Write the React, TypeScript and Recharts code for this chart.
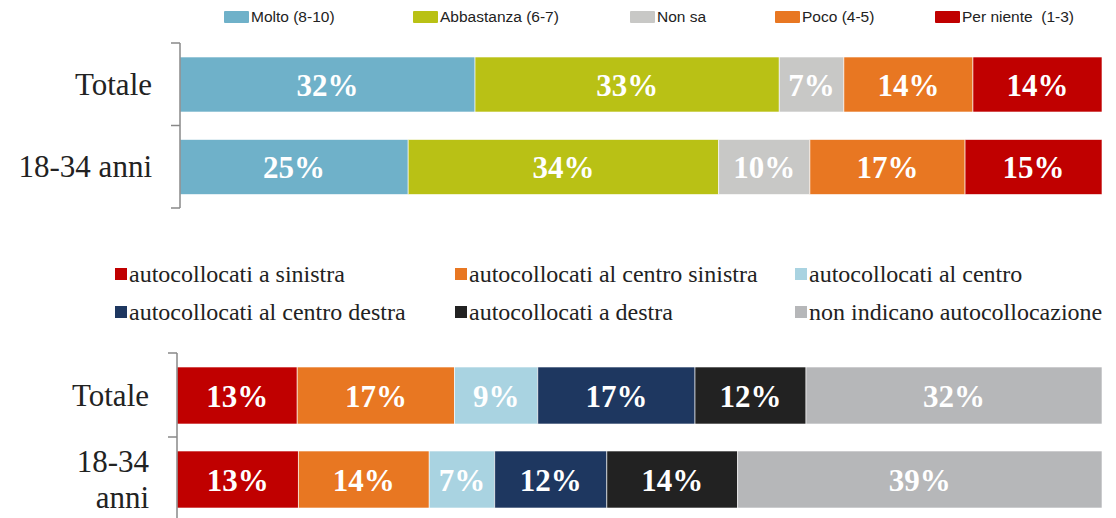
import React from 'react';
import { BarChart, Bar, XAxis, YAxis, LabelList } from 'recharts';

// top chart: fiducia
const topCategories = ['Totale', '18-34 anni'];
const topSeries = ['Molto (8-10)', 'Abbastanza (6-7)', 'Non sa', 'Poco (4-5)', 'Per niente  (1-3)'];
const molto = [32, 25];
const abbastanza = [33, 34];
const nonSa = [7, 10];
const poco = [14, 17];
const perNiente = [14, 15];
const TOP_COLORS = ['#6FB1C9', '#B9C115', '#C8C8C6', '#E87722', '#C00000'];

// bottom chart: autocollocazione
const bottomCategories = ['Totale', '18-34\nanni'];
const bottomSeries = [
    'autocollocati a sinistra',
    'autocollocati al centro sinistra',
    'autocollocati al centro',
    'autocollocati al centro destra',
    'autocollocati a destra',
    'non indicano autocollocazione',
];
const sinistra = [13, 13];
const centroSinistra = [17, 14];
const centro = [9, 7];
const centroDestra = [17, 12];
const destra = [12, 14];
const nonIndicano = [32, 39];
const BOTTOM_COLORS = ['#C00000', '#E87722', '#A9D3E1', '#1E3760', '#222222', '#B6B7B9'];

const topData = topCategories.map((name, i) => ({
    name,
    s0: molto[i],
    s1: abbastanza[i],
    s2: nonSa[i],
    s3: poco[i],
    s4: perNiente[i],
}));

const bottomData = bottomCategories.map((name, i) => ({
    name,
    s0: sinistra[i],
    s1: centroSinistra[i],
    s2: centro[i],
    s3: centroDestra[i],
    s4: destra[i],
    s5: nonIndicano[i],
}));

const SERIF = "'Liberation Serif', 'Times New Roman', serif";
const NARROW = "'Liberation Sans Narrow', 'Liberation Sans', sans-serif";
const TOP_LEGEND_X = [224, 413, 630, 775, 935];

// tick x sits 8px left of the axis line (tickSize + tickMargin)
const CategoryTick = ({ x, y, payload, index, half, last }: any) => {
    const lines = String(payload.value).split('\n');
    const lh = 36;
    const start = -((lines.length - 1) * lh) / 2;
    return (
        <g>
            <line x1={x - 1} x2={x + 8} y1={y - half} y2={y - half} stroke="#888" strokeWidth={1.5} />
            {index === last && (
                <line x1={x - 1} x2={x + 8} y1={y + half} y2={y + half} stroke="#888" strokeWidth={1.5} />
            )}
            {lines.map((l, i) => (
                <text key={i} x={x - 20} y={y + start + i * lh} textAnchor="end" dominantBaseline="central"
                    fill="#222" fontFamily={SERIF} fontSize={31}>
                    {l}
                </text>
            ))}
        </g>
    );
};

const labelStyle = { fontFamily: SERIF, fontWeight: 700, fontSize: 31 };

export default function App() {
    return (
        <div style={{ position: 'absolute', left: 0, top: 0, width: 1116, height: 518, overflow: 'hidden', background: '#fff' }}>
            {/* top legend */}
            {topSeries.map((s, i) => (
                <div key={s} style={{ position: 'absolute', top: 8, left: TOP_LEGEND_X[i], display: 'flex', alignItems: 'center', fontFamily: NARROW, fontSize: 15.5, color: '#222', whiteSpace: 'pre' }}>
                    <span style={{ display: 'inline-block', width: 25, height: 12, background: TOP_COLORS[i], marginRight: 2, borderRadius: 1 }} />
                    {s}
                </div>
            ))}

            <div style={{ position: 'absolute', left: 0, top: 0 }}>
                <BarChart width={1116} height={215} data={topData} layout="vertical" stackOffset="expand"
                    margin={{ top: 43, right: 14, bottom: 7, left: 0 }} barSize={55}>
                    <XAxis type="number" hide domain={[0, 1]} />
                    <YAxis type="category" dataKey="name" width={180} axisLine={{ stroke: '#888', strokeWidth: 1.5 }}
                        tickLine={false} interval={0}
                        tick={(p: any) => <CategoryTick {...p} half={82.5 / 2} last={topCategories.length - 1} />} />
                    {topSeries.map((s, i) => (
                        <Bar key={s} dataKey={`s${i}`} name={s} stackId="a" fill={TOP_COLORS[i]}
                            stroke="#fff" strokeOpacity={0.6} strokeWidth={1} isAnimationActive={false}>
                            <LabelList dataKey={`s${i}`} position="center" fill="#fff" style={labelStyle}
                                formatter={(v: any) => `${v}%`} />
                        </Bar>
                    ))}
                </BarChart>
            </div>

            {/* bottom legend */}
            <div style={{ position: 'absolute', top: 261, left: 115, display: 'grid', gridTemplateColumns: '340px 340px 340px', rowGap: 12, fontFamily: SERIF, fontSize: 24, color: '#222' }}>
                {bottomSeries.map((s, i) => (
                    <div key={s} style={{ display: 'flex', alignItems: 'center', whiteSpace: 'nowrap', height: 26 }}>
                        <span style={{ display: 'inline-block', width: 12, height: 12, background: BOTTOM_COLORS[i], marginRight: 2 }} />
                        {s}
                    </div>
                ))}
            </div>

            <div style={{ position: 'absolute', left: 0, top: 340 }}>
                <BarChart width={1116} height={190} data={bottomData} layout="vertical" stackOffset="expand"
                    margin={{ top: 13, right: 14, bottom: 9, left: 0 }} barSize={57}>
                    <XAxis type="number" hide domain={[0, 1]} />
                    <YAxis type="category" dataKey="name" width={177} axisLine={{ stroke: '#888', strokeWidth: 1.5 }}
                        tickLine={false} interval={0}
                        tick={(p: any) => <CategoryTick {...p} half={84 / 2} last={bottomCategories.length - 1} />} />
                    {bottomSeries.map((s, i) => (
                        <Bar key={s} dataKey={`s${i}`} name={s} stackId="b" fill={BOTTOM_COLORS[i]}
                            stroke="#fff" strokeOpacity={0.6} strokeWidth={1} isAnimationActive={false}>
                            <LabelList dataKey={`s${i}`} position="center" fill="#fff" style={labelStyle}
                                formatter={(v: any) => `${v}%`} />
                        </Bar>
                    ))}
                </BarChart>
            </div>
        </div>
    );
}
